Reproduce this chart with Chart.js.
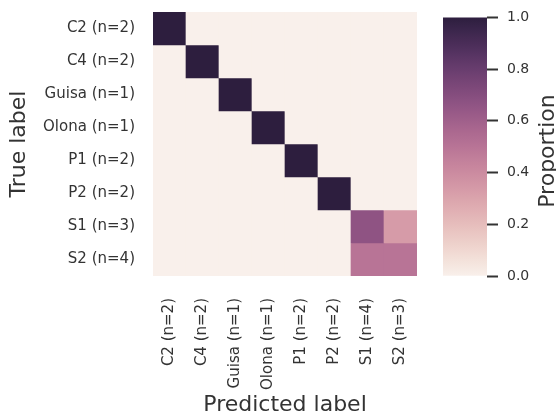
<!DOCTYPE html>
<html><head><meta charset="utf-8">
<script src="https://cdn.jsdelivr.net/npm/chart.js@4.4.0/dist/chart.umd.min.js"></script>
<style>
html,body{margin:0;padding:0;background:#fff;}
#wrap{position:relative;width:556px;height:417px;overflow:hidden;}
#main{position:absolute;left:0;top:0;}
#cbar{position:absolute;left:430px;top:0;}
</style></head><body>
<div id="wrap"><canvas id="main" width="430" height="417"></canvas><canvas id="cbar" width="126" height="417"></canvas></div>
<script>
// ---- data ----
const trueLabels = ['C2 (n=2)','C4 (n=2)','Guisa (n=1)','Olona (n=1)','P1 (n=2)','P2 (n=2)','S1 (n=3)','S2 (n=4)'];
const predictedLabels = ['C2 (n=2)','C4 (n=2)','Guisa (n=1)','Olona (n=1)','P1 (n=2)','P2 (n=2)','S1 (n=4)','S2 (n=3)'];
const rowC2    = [1,0,0,0,0,0,0,0];
const rowC4    = [0,1,0,0,0,0,0,0];
const rowGuisa = [0,0,1,0,0,0,0,0];
const rowOlona = [0,0,0,1,0,0,0,0];
const rowP1    = [0,0,0,0,1,0,0,0];
const rowP2    = [0,0,0,0,0,1,0,0];
const rowS1    = [0,0,0,0,0,0,2/3,1/3];
const rowS2    = [0,0,0,0,0,0,0.5,0.5];
const colorbarTicks = [0,0.2,0.4,0.6,0.8,1.0];
const rows = [rowC2,rowC4,rowGuisa,rowOlona,rowP1,rowP2,rowS1,rowS2];

// seaborn cubehelix_palette(light=.95, dark=.15, as_cmap=True)
function cubehelix(v){
  const light=0.95, dark=0.15, gamma=1, start=0, rot=0.4, hue=0.8;
  const x = light + (dark-light)*v;
  const xg = Math.pow(x,gamma);
  const a = hue*xg*(1-xg)/2;
  const phi = 2*Math.PI*(start/3 + rot*x);
  const c = Math.cos(phi), s = Math.sin(phi);
  const cl = t => Math.round(Math.max(0,Math.min(1,t))*255);
  const r = xg + a*(-0.14861*c + 1.78277*s);
  const g = xg + a*(-0.29227*c - 0.90649*s);
  const b = xg + a*(1.97294*c);
  return `rgb(${cl(r)},${cl(g)},${cl(b)})`;
}

const FONT = 'DejaVu Sans';
const TXT = '#333333';

new Chart(document.getElementById('main'), {
  type:'bar',
  data:{
    labels: predictedLabels,
    datasets: rows.map((r,i)=>({
      label: trueLabels[i],
      data: r.map(()=>1),
      backgroundColor: r.map(cubehelix),
      borderWidth:0,
      barPercentage:1,
      categoryPercentage:1
    }))
  },
  options:{
    responsive:false, animation:false,
    layout:{padding:{left:0,top:12,right:13,bottom:0}},
    plugins:{legend:{display:false}, tooltip:{enabled:false}},
    scales:{
      x:{
        stacked:true,
        grid:{display:false, drawTicks:false}, border:{display:false},
        ticks:{autoSkip:false, minRotation:90, maxRotation:90, padding:22, color:TXT, font:{family:FONT,size:15}},
        title:{display:true, text:'Predicted label', color:TXT, font:{family:FONT,size:22,lineHeight:1.1}, padding:{top:0,bottom:0}},
        afterFit(s){ s.height = 141; s.paddingLeft = 0; s.paddingRight = 0; }
      },
      y:{
        stacked:true, reverse:true, min:0, max:8,
        grid:{display:false, drawTicks:false}, border:{display:false},
        afterBuildTicks(s){ s.ticks = trueLabels.map((_,i)=>({value:i+0.5})); },
        ticks:{padding:18, color:TXT, font:{family:FONT,size:15}, callback:(v)=>trueLabels[Math.floor(v)]},
        title:{display:true, text:'True label', color:TXT, font:{family:FONT,size:22,lineHeight:1.2}, padding:{top:6,bottom:0}},
        afterFit(s){ s.width = 153; s.paddingTop = 0; s.paddingBottom = 0; }
      }
    }
  }
});

const cbTitle = {
  id:'cbTitle',
  afterDraw(chart){
    const ctx = chart.ctx;
    ctx.save();
    ctx.fillStyle = TXT;
    ctx.font = `22px "${FONT}"`;
    ctx.translate(124, 151);
    ctx.rotate(-Math.PI/2);
    ctx.textAlign = 'center';
    ctx.textBaseline = 'alphabetic';
    ctx.fillText('Proportion', 0, 0);
    ctx.restore();
  }
};

new Chart(document.getElementById('cbar'), {
  type:'bar',
  data:{
    labels:['Proportion'],
    datasets:[{
      data:[[colorbarTicks[0], colorbarTicks[colorbarTicks.length-1]]],
      backgroundColor(ctx){
        const chart = ctx.chart; const y = chart.scales.y;
        if(!y || !chart.chartArea) return cubehelix(0.5);
        const g = chart.ctx.createLinearGradient(0, y.getPixelForValue(0), 0, y.getPixelForValue(1));
        for(let i=0;i<=40;i++){ g.addColorStop(i/40, cubehelix(i/40)); }
        return g;
      },
      borderWidth:0, barPercentage:1, categoryPercentage:1
    }]
  },
  options:{
    responsive:false, animation:false,
    layout:{padding:{left:13,top:12,right:0,bottom:141}},
    plugins:{legend:{display:false}, tooltip:{enabled:false}},
    scales:{
      x:{display:false},
      y:{
        position:'right', min:0, max:1,
        afterBuildTicks(s){ s.ticks = colorbarTicks.map(v=>({value:v})); },
        grid:{drawOnChartArea:false, drawTicks:true, tickLength:11, tickWidth:2, tickColor:TXT},
        border:{display:false},
        ticks:{padding:9, color:TXT, font:{family:FONT,size:14}, callback:(v)=>Number(v).toFixed(1)},
        afterFit(s){ s.width = 69; }
      }
    }
  },
  plugins:[cbTitle]
});
</script>
</body></html>
